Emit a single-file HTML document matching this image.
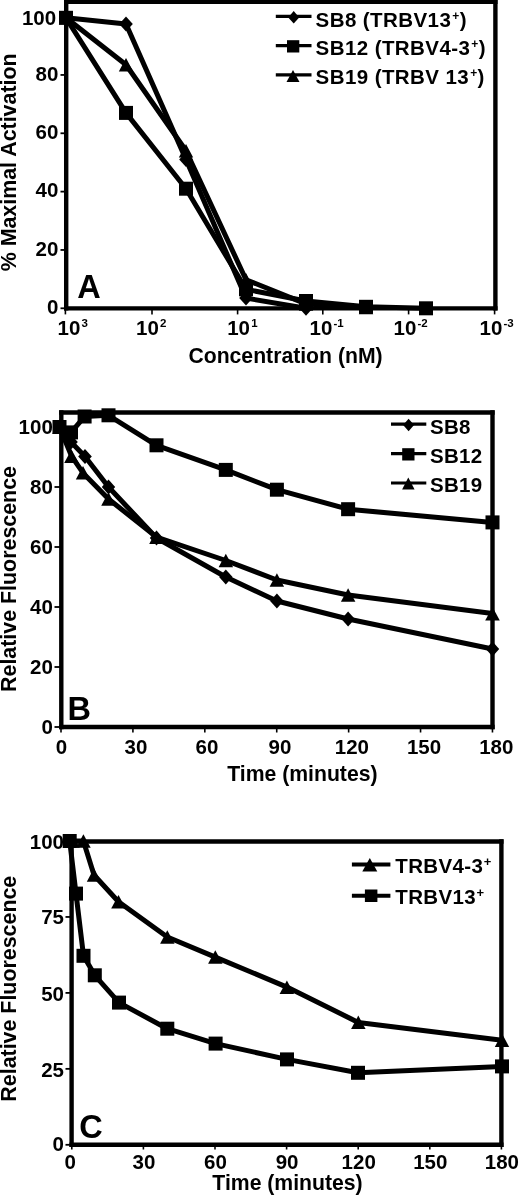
<!DOCTYPE html>
<html><head><meta charset="utf-8"><style>
html,body{margin:0;padding:0;background:#fff;}
svg{display:block;}
text{font-family:'Liberation Sans',Arial,sans-serif;font-weight:bold;fill:#000;}
</style></head><body>
<svg width="520" height="1195" viewBox="0 0 520 1195">
<rect width="520" height="1195" fill="#fff"/>
<line x1="66.2" y1="0" x2="66.2" y2="310.55" stroke="#000" stroke-width="4.4"/>
<line x1="64.05" y1="308.4" x2="497.55" y2="308.4" stroke="#000" stroke-width="4.4"/>
<line x1="64.05" y1="1.8" x2="497.55" y2="1.8" stroke="#000" stroke-width="4.4"/>
<line x1="495.4" y1="0" x2="495.4" y2="310.55" stroke="#000" stroke-width="4.4"/>
<line x1="60.5" y1="308.3" x2="66.2" y2="308.3" stroke="#000" stroke-width="1.8"/>
<line x1="60.5" y1="249.96" x2="66.2" y2="249.96" stroke="#000" stroke-width="1.8"/>
<line x1="60.5" y1="191.62" x2="66.2" y2="191.62" stroke="#000" stroke-width="1.8"/>
<line x1="60.5" y1="133.28" x2="66.2" y2="133.28" stroke="#000" stroke-width="1.8"/>
<line x1="60.5" y1="74.94" x2="66.2" y2="74.94" stroke="#000" stroke-width="1.8"/>
<line x1="60.5" y1="16.6" x2="66.2" y2="16.6" stroke="#000" stroke-width="1.8"/>
<line x1="65.4" y1="308.4" x2="65.4" y2="314.4" stroke="#000" stroke-width="1.6"/>
<line x1="152" y1="308.4" x2="152" y2="314.4" stroke="#000" stroke-width="1.6"/>
<line x1="237.6" y1="308.4" x2="237.6" y2="314.4" stroke="#000" stroke-width="1.6"/>
<line x1="322.8" y1="308.4" x2="322.8" y2="314.4" stroke="#000" stroke-width="1.6"/>
<line x1="408.6" y1="308.4" x2="408.6" y2="314.4" stroke="#000" stroke-width="1.6"/>
<line x1="494.6" y1="308.4" x2="494.6" y2="314.4" stroke="#000" stroke-width="1.6"/>
<text x="56.2" y="24.8" font-size="20.5" text-anchor="end" >100</text>
<text x="58.3" y="80.9" font-size="20.5" text-anchor="end" >80</text>
<text x="58.3" y="139.2" font-size="20.5" text-anchor="end" >60</text>
<text x="58.3" y="197.0" font-size="20.5" text-anchor="end" >40</text>
<text x="58.3" y="255.7" font-size="20.5" text-anchor="end" >20</text>
<text x="58.3" y="314.4" font-size="20.5" text-anchor="end" >0</text>
<text x="57.6" y="335" font-size="20.5" text-anchor="start">10<tspan font-size="11.5" dx="1.2" dy="-8.3">3</tspan></text>
<text x="136.0" y="335" font-size="20.5" text-anchor="start">10<tspan font-size="11.5" dx="1.2" dy="-8.3">2</tspan></text>
<text x="227.2" y="335" font-size="20.5" text-anchor="start">10<tspan font-size="11.5" dx="1.2" dy="-8.3">1</tspan></text>
<text x="309.5" y="335" font-size="20.5" text-anchor="start">10<tspan font-size="11.5" dx="1.2" dy="-8.3">-1</tspan></text>
<text x="393.5" y="335" font-size="20.5" text-anchor="start">10<tspan font-size="11.5" dx="1.2" dy="-8.3">-2</tspan></text>
<text x="479.5" y="335" font-size="20.5" text-anchor="start">10<tspan font-size="11.5" dx="1.2" dy="-8.3">-3</tspan></text>
<text x="285.5" y="363.4" font-size="21.2" text-anchor="middle" >Concentration (nM)</text>
<text x="0" y="0" font-size="21.4" text-anchor="middle" transform="translate(16.2,162.35) rotate(-90)">% Maximal Activation</text>
<text x="77.3" y="297.7" font-size="32.5" text-anchor="start" >A</text>
<polyline points="66.0,17.8 126.0,112.9 186.0,188.7 246.0,289.3 306.0,301.0 366.0,306.8 426.0,308.3" fill="none" stroke="#000" stroke-width="5.0" stroke-linejoin="round" stroke-linecap="round"/>
<polyline points="66.0,17.8 126.0,64.7 186.0,150.8 246.0,279.7 306.0,303.9 366.0,307.4" fill="none" stroke="#000" stroke-width="5.0" stroke-linejoin="round" stroke-linecap="round"/>
<polyline points="66.0,17.8 126.0,23.9 186.0,159.5 246.0,298.1 306.0,308.3" fill="none" stroke="#000" stroke-width="5.0" stroke-linejoin="round" stroke-linecap="round"/>
<rect x="59.0" y="10.8" width="14" height="14" fill="#000"/>
<rect x="119.0" y="105.9" width="14" height="14" fill="#000"/>
<rect x="179.0" y="181.7" width="14" height="14" fill="#000"/>
<rect x="239.0" y="282.3" width="14" height="14" fill="#000"/>
<rect x="299.0" y="294.0" width="14" height="14" fill="#000"/>
<rect x="359.0" y="299.8" width="14" height="14" fill="#000"/>
<rect x="419.0" y="301.3" width="14" height="14" fill="#000"/>
<polygon points="66.0,11.0 73.2,24.5 58.8,24.5" fill="#000"/>
<polygon points="126.0,58.0 133.2,71.5 118.8,71.5" fill="#000"/>
<polygon points="186.0,144.0 193.2,157.5 178.8,157.5" fill="#000"/>
<polygon points="246.0,273.0 253.2,286.5 238.8,286.5" fill="#000"/>
<polygon points="306.0,297.2 313.2,310.7 298.8,310.7" fill="#000"/>
<polygon points="366.0,300.7 373.2,314.2 358.8,314.2" fill="#000"/>
<polygon points="66.0,10.3 72.8,17.8 66.0,25.3 59.2,17.8" fill="#000"/>
<polygon points="126.0,16.4 132.8,23.9 126.0,31.4 119.2,23.9" fill="#000"/>
<polygon points="186.0,152.0 192.8,159.5 186.0,167.0 179.2,159.5" fill="#000"/>
<polygon points="246.0,290.6 252.8,298.1 246.0,305.6 239.2,298.1" fill="#000"/>
<polygon points="306.0,300.8 312.8,308.3 306.0,315.8 299.2,308.3" fill="#000"/>
<line x1="275.8" y1="16.3" x2="311.5" y2="16.3" stroke="#000" stroke-width="3.2"/>
<polygon points="293.7,11.1 299.2,17.4 293.7,23.6 288.2,17.4" fill="#000"/>
<text x="315.6" y="27.1" font-size="20.5" letter-spacing="0.42">SB8 (TRBV13<tspan font-size="12" dx="1" dy="-7">+</tspan><tspan dy="7">)</tspan></text>
<line x1="275.8" y1="45.6" x2="311.5" y2="45.6" stroke="#000" stroke-width="3.2"/>
<rect x="287.0" y="40.2" width="12.3" height="12.3" fill="#000"/>
<text x="315.6" y="55.3" font-size="20.5" letter-spacing="0.42">SB12 (TRBV4-3<tspan font-size="12" dx="1" dy="-7">+</tspan><tspan dy="7">)</tspan></text>
<line x1="275.8" y1="74.8" x2="311.5" y2="74.8" stroke="#000" stroke-width="3.2"/>
<polygon points="293.0,70.1 299.5,82.1 286.5,82.1" fill="#000"/>
<text x="315.6" y="84.2" font-size="20.5" letter-spacing="0.42">SB19 (TRBV 13<tspan font-size="12" dx="1" dy="-7">+</tspan><tspan dy="7">)</tspan></text>
<line x1="61.3" y1="410.35" x2="61.3" y2="729.15" stroke="#000" stroke-width="4.4"/>
<line x1="59.15" y1="727" x2="494.65" y2="727" stroke="#000" stroke-width="4.4"/>
<line x1="59.15" y1="412.5" x2="494.65" y2="412.5" stroke="#000" stroke-width="4.4"/>
<line x1="492.5" y1="410.35" x2="492.5" y2="729.15" stroke="#000" stroke-width="4.4"/>
<line x1="54.5" y1="727" x2="61.3" y2="727" stroke="#000" stroke-width="1.8"/>
<line x1="54.5" y1="667" x2="61.3" y2="667" stroke="#000" stroke-width="1.8"/>
<line x1="54.5" y1="607" x2="61.3" y2="607" stroke="#000" stroke-width="1.8"/>
<line x1="54.5" y1="547" x2="61.3" y2="547" stroke="#000" stroke-width="1.8"/>
<line x1="54.5" y1="487" x2="61.3" y2="487" stroke="#000" stroke-width="1.8"/>
<line x1="54.5" y1="427" x2="61.3" y2="427" stroke="#000" stroke-width="1.8"/>
<line x1="61" y1="727" x2="61" y2="732.5" stroke="#000" stroke-width="1.6"/>
<line x1="132.91" y1="727" x2="132.91" y2="732.5" stroke="#000" stroke-width="1.6"/>
<line x1="204.82" y1="727" x2="204.82" y2="732.5" stroke="#000" stroke-width="1.6"/>
<line x1="276.73" y1="727" x2="276.73" y2="732.5" stroke="#000" stroke-width="1.6"/>
<line x1="348.64" y1="727" x2="348.64" y2="732.5" stroke="#000" stroke-width="1.6"/>
<line x1="420.55" y1="727" x2="420.55" y2="732.5" stroke="#000" stroke-width="1.6"/>
<line x1="492.46" y1="727" x2="492.46" y2="732.5" stroke="#000" stroke-width="1.6"/>
<text x="52.8" y="433.5" font-size="20.5" text-anchor="end" >100</text>
<text x="52.8" y="493.7" font-size="20.5" text-anchor="end" >80</text>
<text x="52.8" y="553.9" font-size="20.5" text-anchor="end" >60</text>
<text x="52.8" y="613.9" font-size="20.5" text-anchor="end" >40</text>
<text x="52.8" y="673.9" font-size="20.5" text-anchor="end" >20</text>
<text x="52.8" y="734.2" font-size="20.5" text-anchor="end" >0</text>
<text x="61.5" y="754.2" font-size="20.5" text-anchor="middle" >0</text>
<text x="136" y="754.2" font-size="20.5" text-anchor="middle" >30</text>
<text x="207" y="754.2" font-size="20.5" text-anchor="middle" >60</text>
<text x="280" y="754.2" font-size="20.5" text-anchor="middle" >90</text>
<text x="351.9" y="754.2" font-size="20.5" text-anchor="middle" >120</text>
<text x="424" y="754.2" font-size="20.5" text-anchor="middle" >150</text>
<text x="496.3" y="754.2" font-size="20.5" text-anchor="middle" >180</text>
<text x="302.4" y="781.4" font-size="21.2" text-anchor="middle" >Time (minutes)</text>
<text x="0" y="0" font-size="21.4" text-anchor="middle" transform="translate(16.2,579) rotate(-90)">Relative Fluorescence</text>
<text x="67.6" y="719.8" font-size="32.5" text-anchor="start" >B</text>
<polyline points="59.5,427.0 71.0,432.4 84.6,416.5 108.5,415.3 156.5,445.3 225.8,469.9 276.9,489.7 348.1,509.2 492.5,522.4" fill="none" stroke="#000" stroke-width="5.0" stroke-linejoin="round" stroke-linecap="round"/>
<polyline points="59.5,427.0 71.0,442.0 85.0,456.4 108.5,487.0 156.5,538.0 225.8,577.0 276.9,601.0 348.1,619.0 492.5,649.0" fill="none" stroke="#000" stroke-width="5.0" stroke-linejoin="round" stroke-linecap="round"/>
<polyline points="59.5,427.0 71.5,456.1 83.0,472.9 108.5,499.0 156.5,537.1 225.8,560.5 276.9,580.0 348.1,595.0 492.5,613.6" fill="none" stroke="#000" stroke-width="5.0" stroke-linejoin="round" stroke-linecap="round"/>
<rect x="52.5" y="420.0" width="14" height="14" fill="#000"/>
<rect x="64.0" y="425.4" width="14" height="14" fill="#000"/>
<rect x="77.6" y="409.5" width="14" height="14" fill="#000"/>
<rect x="101.5" y="408.3" width="14" height="14" fill="#000"/>
<rect x="149.5" y="438.3" width="14" height="14" fill="#000"/>
<rect x="218.8" y="462.9" width="14" height="14" fill="#000"/>
<rect x="269.9" y="482.7" width="14" height="14" fill="#000"/>
<rect x="341.1" y="502.2" width="14" height="14" fill="#000"/>
<rect x="485.5" y="515.4" width="14" height="14" fill="#000"/>
<polygon points="59.5,420.2 66.8,433.8 52.2,433.8" fill="#000"/>
<polygon points="71.5,449.4 78.8,462.9 64.2,462.9" fill="#000"/>
<polygon points="83.0,466.1 90.2,479.6 75.8,479.6" fill="#000"/>
<polygon points="108.5,492.2 115.8,505.8 101.2,505.8" fill="#000"/>
<polygon points="156.5,530.4 163.8,543.9 149.2,543.9" fill="#000"/>
<polygon points="225.8,553.8 233.1,567.2 218.6,567.2" fill="#000"/>
<polygon points="276.9,573.2 284.1,586.8 269.6,586.8" fill="#000"/>
<polygon points="348.1,588.2 355.4,601.8 340.9,601.8" fill="#000"/>
<polygon points="492.5,606.9 499.8,620.4 485.2,620.4" fill="#000"/>
<polygon points="59.5,419.5 66.2,427.0 59.5,434.5 52.8,427.0" fill="#000"/>
<polygon points="71.0,434.5 77.8,442.0 71.0,449.5 64.2,442.0" fill="#000"/>
<polygon points="85.0,448.9 91.8,456.4 85.0,463.9 78.2,456.4" fill="#000"/>
<polygon points="108.5,479.5 115.2,487.0 108.5,494.5 101.8,487.0" fill="#000"/>
<polygon points="156.5,530.5 163.2,538.0 156.5,545.5 149.8,538.0" fill="#000"/>
<polygon points="225.8,569.5 232.6,577.0 225.8,584.5 219.1,577.0" fill="#000"/>
<polygon points="276.9,593.5 283.6,601.0 276.9,608.5 270.1,601.0" fill="#000"/>
<polygon points="348.1,611.5 354.9,619.0 348.1,626.5 341.4,619.0" fill="#000"/>
<polygon points="492.5,641.5 499.2,649.0 492.5,656.5 485.8,649.0" fill="#000"/>
<line x1="391" y1="424.2" x2="426.3" y2="424.2" stroke="#000" stroke-width="3.2"/>
<polygon points="408.6,418.8 414.1,425.0 408.6,431.2 403.1,425.0" fill="#000"/>
<text x="430" y="433.5" font-size="20.5" letter-spacing="0.3">SB8</text>
<line x1="391" y1="453.6" x2="426.3" y2="453.6" stroke="#000" stroke-width="3.2"/>
<rect x="402.2" y="448.2" width="12.3" height="12.3" fill="#000"/>
<text x="430" y="462.9" font-size="20.5" letter-spacing="0.3">SB12</text>
<line x1="391" y1="483" x2="426.3" y2="483" stroke="#000" stroke-width="3.2"/>
<polygon points="408.3,477.6 414.6,489.6 402.1,489.6" fill="#000"/>
<text x="430" y="491.8" font-size="20.5" letter-spacing="0.3">SB19</text>
<line x1="71.6" y1="839.35" x2="71.6" y2="1146.95" stroke="#000" stroke-width="4.4"/>
<line x1="69.45" y1="1144.8" x2="503.55" y2="1144.8" stroke="#000" stroke-width="4.4"/>
<line x1="69.45" y1="841.5" x2="503.55" y2="841.5" stroke="#000" stroke-width="4.4"/>
<line x1="501.4" y1="839.35" x2="501.4" y2="1146.95" stroke="#000" stroke-width="4.4"/>
<line x1="65.5" y1="1144.8" x2="71.6" y2="1144.8" stroke="#000" stroke-width="1.8"/>
<line x1="65.5" y1="1068.85" x2="71.6" y2="1068.85" stroke="#000" stroke-width="1.8"/>
<line x1="65.5" y1="992.9" x2="71.6" y2="992.9" stroke="#000" stroke-width="1.8"/>
<line x1="65.5" y1="916.95" x2="71.6" y2="916.95" stroke="#000" stroke-width="1.8"/>
<line x1="65.5" y1="841" x2="71.6" y2="841" stroke="#000" stroke-width="1.8"/>
<line x1="71.8" y1="1144.8" x2="71.8" y2="1149.5" stroke="#000" stroke-width="1.6"/>
<line x1="143.4" y1="1144.8" x2="143.4" y2="1149.5" stroke="#000" stroke-width="1.6"/>
<line x1="215" y1="1144.8" x2="215" y2="1149.5" stroke="#000" stroke-width="1.6"/>
<line x1="286.6" y1="1144.8" x2="286.6" y2="1149.5" stroke="#000" stroke-width="1.6"/>
<line x1="358.2" y1="1144.8" x2="358.2" y2="1149.5" stroke="#000" stroke-width="1.6"/>
<line x1="429.81" y1="1144.8" x2="429.81" y2="1149.5" stroke="#000" stroke-width="1.6"/>
<line x1="501.41" y1="1144.8" x2="501.41" y2="1149.5" stroke="#000" stroke-width="1.6"/>
<text x="64" y="848.5" font-size="20.5" text-anchor="end" >100</text>
<text x="64" y="924.1" font-size="20.5" text-anchor="end" >75</text>
<text x="64" y="1000.9" font-size="20.5" text-anchor="end" >50</text>
<text x="64" y="1077.0" font-size="20.5" text-anchor="end" >25</text>
<text x="64" y="1151.4" font-size="20.5" text-anchor="end" >0</text>
<text x="70.3" y="1168.6" font-size="20.5" text-anchor="middle" >0</text>
<text x="143.9" y="1168.6" font-size="20.5" text-anchor="middle" >30</text>
<text x="215.5" y="1168.6" font-size="20.5" text-anchor="middle" >60</text>
<text x="287.1" y="1168.6" font-size="20.5" text-anchor="middle" >90</text>
<text x="358.7" y="1168.6" font-size="20.5" text-anchor="middle" >120</text>
<text x="430.3" y="1168.6" font-size="20.5" text-anchor="middle" >150</text>
<text x="501.9" y="1168.6" font-size="20.5" text-anchor="middle" >180</text>
<text x="287.5" y="1190.3" font-size="21.2" text-anchor="middle" >Time (minutes)</text>
<text x="0" y="0" font-size="21.4" text-anchor="middle" transform="translate(16.2,988.7) rotate(-90)">Relative Fluorescence</text>
<text x="79.3" y="1137.6" font-size="32.5" text-anchor="start" >C</text>
<polyline points="72.5,841.0 83.4,841.0 94.0,875.0 118.5,901.8 167.3,937.0 215.3,957.1 286.9,987.1 358.3,1022.4 502.0,1040.3" fill="none" stroke="#000" stroke-width="5.0" stroke-linejoin="round" stroke-linecap="round"/>
<polyline points="69.7,841.0 76.0,893.6 83.5,955.8 94.8,975.3 119.0,1002.6 167.3,1028.7 215.6,1043.6 287.0,1059.4 358.0,1072.8 502.0,1066.4" fill="none" stroke="#000" stroke-width="5.0" stroke-linejoin="round" stroke-linecap="round"/>
<polygon points="72.5,834.2 79.8,847.8 65.2,847.8" fill="#000"/>
<polygon points="83.4,834.2 90.7,847.8 76.2,847.8" fill="#000"/>
<polygon points="94.0,868.3 101.2,881.8 86.8,881.8" fill="#000"/>
<polygon points="118.5,895.0 125.8,908.5 111.2,908.5" fill="#000"/>
<polygon points="167.3,930.3 174.6,943.8 160.1,943.8" fill="#000"/>
<polygon points="215.3,950.3 222.6,963.8 208.1,963.8" fill="#000"/>
<polygon points="286.9,980.4 294.1,993.9 279.6,993.9" fill="#000"/>
<polygon points="358.3,1015.6 365.6,1029.1 351.1,1029.1" fill="#000"/>
<polygon points="502.0,1033.5 509.2,1047.0 494.8,1047.0" fill="#000"/>
<rect x="62.7" y="834.0" width="14" height="14" fill="#000"/>
<rect x="69.0" y="886.6" width="14" height="14" fill="#000"/>
<rect x="76.5" y="948.8" width="14" height="14" fill="#000"/>
<rect x="87.8" y="968.3" width="14" height="14" fill="#000"/>
<rect x="112.0" y="995.6" width="14" height="14" fill="#000"/>
<rect x="160.3" y="1021.7" width="14" height="14" fill="#000"/>
<rect x="208.6" y="1036.6" width="14" height="14" fill="#000"/>
<rect x="280.0" y="1052.4" width="14" height="14" fill="#000"/>
<rect x="351.0" y="1065.8" width="14" height="14" fill="#000"/>
<rect x="495.0" y="1059.4" width="14" height="14" fill="#000"/>
<line x1="351.9" y1="864.6" x2="390.4" y2="864.6" stroke="#000" stroke-width="4"/>
<polygon points="369.8,858.1 377.3,871.6 362.3,871.6" fill="#000"/>
<text x="395.3" y="872.8" font-size="20.5" letter-spacing="0.35">TRBV4-3<tspan font-size="13" dx="0.5" dy="-6.7">+</tspan></text>
<line x1="351.9" y1="895.7" x2="390.4" y2="895.7" stroke="#000" stroke-width="4"/>
<rect x="364.9" y="889.5" width="12.5" height="12.5" fill="#000"/>
<text x="395.3" y="903.9" font-size="20.5" letter-spacing="0.35">TRBV13<tspan font-size="13" dx="0.5" dy="-6.7">+</tspan></text>
</svg>
</body></html>
